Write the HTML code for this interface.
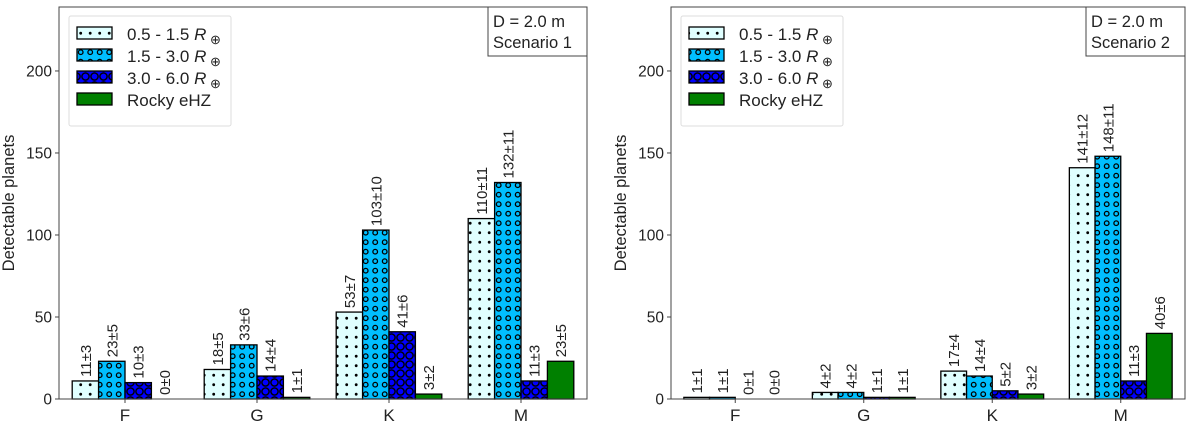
<!DOCTYPE html>
<html><head><meta charset="utf-8"><style>
body{margin:0;background:#fff;}
svg{display:block;font-family:"Liberation Sans",Arial,sans-serif;}
</style></head><body>
<svg id="c" width="1200" height="429" viewBox="0 0 1200 429" xmlns="http://www.w3.org/2000/svg">
<defs>
<pattern id="pDots" width="9.5" height="9.5" patternUnits="userSpaceOnUse"><rect width="9.5" height="9.5" fill="#e0ffff"/><circle cx="4.7" cy="4.7" r="1.4" fill="#000"/></pattern>
<pattern id="pSmall" width="9.5" height="9.5" patternUnits="userSpaceOnUse"><rect width="9.5" height="9.5" fill="#00bfff"/><circle cx="4.7" cy="4.7" r="2.3" fill="none" stroke="#000" stroke-width="1.3"/></pattern>
<pattern id="pBig" width="9" height="9" patternUnits="userSpaceOnUse"><rect width="9" height="9" fill="#0000ff"/><circle cx="4.5" cy="4.5" r="3.6" fill="none" stroke="#000" stroke-width="1.4"/></pattern>
</defs>
</svg>
<script>
const categories = ["F","G","K","M"];
const seriesNames = ["0.5 - 1.5", "1.5 - 3.0", "3.0 - 6.0", "Rocky eHZ"];
const s1Values = [[11,18,53,110],[23,33,103,132],[10,14,41,11],[0,1,3,23]];
const s1Errors = [[3,5,7,11],[5,6,10,11],[3,4,6,3],[0,1,2,5]];
const s2Values = [[1,4,17,141],[1,4,14,148],[0,1,5,11],[0,1,3,40]];
const s2Errors = [[1,2,4,12],[1,2,4,11],[1,1,2,3],[0,1,2,6]];
const yTicks = [0,50,100,150,200];
const fills = ["url(#pDots)","url(#pSmall)","url(#pBig)","#008000"];
const NS="http://www.w3.org/2000/svg";
const svg=document.getElementById('c');
function mk(tag,attrs,parent){const e=document.createElementNS(NS,tag);for(const k in attrs)e.setAttribute(k,attrs[k]);(parent||svg).appendChild(e);return e;}

function panel(px0,px1,vals,errs,scen,pname){
  const g=mk('g',{});
  
  
  const top=7,bot=399,ymax=239;
  const xs=v=>px0+(v+0.5)/4*(px1-px0);
  const ys=v=>bot-v/ymax*(bot-top);
  for(let s=0;s<4;s++){
    for(let i=0;i<4;i++){
      const v=vals[s][i];
      const x=xs(i-0.4+s*0.2), w=xs(0.2)-xs(0);
      const r=mk('rect',{x:x,y:ys(v),width:w,height:bot-ys(v),fill:fills[s],stroke:'#000','stroke-width':1.3},g);
      
      
      const tx=x+w/2+5.5, ty=ys(v)-4;
      const t=mk('text',{x:tx,y:ty,'font-size':15,fill:'#222',transform:`rotate(-90 ${tx} ${ty})`},g);
      t.textContent=v+'±'+errs[s][i];
      
      
    }
  }
  const f=mk('rect',{x:px0,y:top,width:px1-px0,height:bot-top,fill:'none',stroke:'#444','stroke-width':1},g);
  
  
  yTicks.forEach(t=>{
    const y=ys(t);
    mk('line',{x1:px0-4,x2:px0,y1:y,y2:y,stroke:'#444'},g);
    const l=mk('text',{x:px0-7,y:y+5.5,'font-size':15.5,'text-anchor':'end',fill:'#222'},g);
    l.textContent=t;
    
    
  });
  categories.forEach((c,i)=>{
    const x=xs(i);
    mk('line',{x1:x,x2:x,y1:bot,y2:bot+4,stroke:'#444'},g);
    const l=mk('text',{x:x,y:bot+22,'font-size':17,'text-anchor':'middle',fill:'#222'},g);
    l.textContent=c;
    
    
  });
  const yt=mk('text',{x:px0-45,y:(top+bot)/2,'font-size':16.5,'text-anchor':'middle',fill:'#222',transform:`rotate(-90 ${px0-45} ${(top+bot)/2})`},g);
  yt.textContent='Detectable planets';
  
  
  const lg=mk('g',{},g);
  
  
  mk('rect',{x:px0+10,y:16,width:162,height:110,fill:'#fff',stroke:'#ddd',rx:2},lg);
  for(let s=0;s<4;s++){
    const y=27+s*22;
    mk('rect',{x:px0+18,y:y,width:35,height:12,fill:fills[s],stroke:'#000','stroke-width':1.3},lg);
    const t=mk('text',{x:px0+68,y:y+13,'font-size':17,fill:'#222'},lg);
    
    
    if(s<3){t.innerHTML=seriesNames[s]+' <tspan font-style="italic">R</tspan><tspan font-size="13" dy="4"> ⊕</tspan>';}
    else t.textContent=seriesNames[s];
  }
  const ab=mk('g',{},g);
  
  
  mk('rect',{x:px1-99,y:top,width:99,height:49,fill:'#fff',stroke:'#444'},ab);
  const a1=mk('text',{x:px1-94,y:top+20,'font-size':16.5,fill:'#222'},ab);a1.textContent='D = 2.0 m';
  const a2=mk('text',{x:px1-94,y:top+41,'font-size':16.5,fill:'#222'},ab);a2.textContent='Scenario '+scen;
}
panel(59,587,s1Values,s1Errors,1,'panel-scenario-1');
panel(671,1185,s2Values,s2Errors,2,'panel-scenario-2');
</script>
</body></html>
